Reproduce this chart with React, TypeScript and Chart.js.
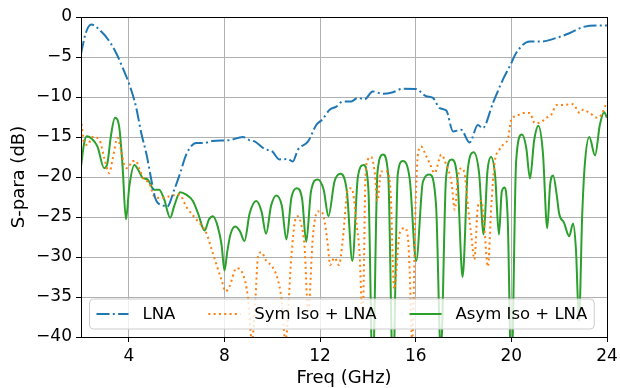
import { useEffect, useRef } from 'react';
import { Chart, registerables } from 'chart.js';

Chart.register(...registerables);

const xTickValues = [4, 8, 12, 16, 20, 24];
const yTickValues = [-40, -35, -30, -25, -20, -15, -10, -5, 0];

const seriesLabels = ['LNA', 'Sym Iso + LNA', 'Asym Iso + LNA'];

const lnaFreq = [2.0, 2.2, 2.43, 2.77, 3.19, 3.47, 3.75, 4.03, 4.3, 4.52, 4.75, 4.95, 5.1, 5.2, 5.4, 5.6, 5.9, 6.15, 6.4, 6.82, 7.17, 7.5, 8.2, 8.77, 9.05, 9.26, 9.68, 10.0, 10.3, 10.65, 10.86, 11.07, 11.5, 11.84, 12.1, 12.4, 12.68, 12.95, 13.3, 13.58, 13.86, 14.2, 14.63, 15.05, 15.46, 16.0, 16.44, 16.72, 17.0, 17.28, 17.56, 17.9, 18.25, 18.6, 18.8, 19.23, 19.65, 20.0, 20.2, 20.77, 21.3, 21.9, 22.45, 23.0, 23.56, 24.0];
const lnaDb = [-4.6, -2.0, -0.95, -1.6, -3.05, -4.5, -6.4, -8.5, -11.2, -14.5, -17.3, -20.5, -22.6, -23.2, -23.5, -23.75, -21.6, -19.5, -17.2, -15.75, -15.75, -15.5, -15.4, -15.0, -15.4, -15.55, -16.5, -16.8, -17.8, -17.75, -18.05, -16.6, -15.55, -13.5, -12.8, -11.6, -11.2, -10.55, -10.55, -10.1, -10.3, -9.3, -9.6, -9.4, -8.96, -9.0, -9.9, -10.1, -11.4, -11.7, -14.3, -14.1, -15.7, -13.5, -13.9, -10.75, -7.8, -5.75, -4.5, -3.05, -3.05, -2.6, -2.0, -1.25, -1.05, -1.05];

const symFreq = [2.0, 2.13, 2.27, 2.48, 2.76, 2.97, 3.18, 3.32, 3.53, 3.67, 3.81, 3.95, 4.15, 4.3, 4.43, 4.64, 4.85, 5.06, 5.27, 5.5, 5.7, 6.12, 6.4, 6.82, 7.24, 7.51, 7.87, 8.05, 8.21, 8.5, 8.77, 8.98, 9.15, 9.3, 9.4, 9.54, 9.75, 10.0, 10.23, 10.38, 10.55, 10.8, 10.95, 11.07, 11.2, 11.35, 11.5, 11.7, 11.9, 12.05, 12.2, 12.33, 12.42, 12.6, 12.79, 12.95, 13.16, 13.3, 13.37, 13.54, 13.65, 13.78, 13.9, 14.0, 14.14, 14.28, 14.4, 14.55, 14.8, 14.95, 15.1, 15.33, 15.54, 15.68, 15.75, 15.85, 16.0, 16.1, 16.23, 16.44, 16.58, 16.79, 17.07, 17.28, 17.5, 17.63, 17.77, 17.91, 18.05, 18.2, 18.33, 18.45, 18.6, 18.75, 18.86, 19.02, 19.16, 19.3, 19.5, 19.72, 19.85, 20.0, 20.2, 20.5, 20.77, 20.98, 21.2, 21.46, 21.67, 21.9, 22.16, 22.58, 22.86, 23.0, 23.27, 23.62, 23.8, 24.0];
const symDb = [-12.7, -15.7, -16.0, -15.0, -15.3, -17.6, -19.5, -17.8, -15.1, -16.6, -18.5, -18.9, -18.0, -18.0, -18.9, -20.3, -20.75, -22.4, -22.6, -22.6, -22.4, -22.2, -23.7, -25.3, -27.0, -29.5, -32.8, -34.3, -33.7, -31.4, -32.1, -35.0, -40.5, -35.0, -30.0, -29.4, -30.5, -31.2, -32.8, -35.1, -40.5, -29.9, -25.5, -24.9, -25.8, -28.7, -37.0, -27.4, -24.3, -24.3, -25.75, -28.7, -31.0, -30.1, -31.0, -27.8, -21.6, -21.4, -21.8, -26.2, -29.5, -38.0, -20.0, -17.8, -17.5, -19.3, -23.0, -19.3, -19.3, -22.0, -34.0, -27.0, -26.4, -27.8, -32.0, -40.5, -22.8, -17.0, -16.2, -17.4, -18.25, -19.5, -17.2, -18.5, -20.75, -24.1, -19.9, -18.9, -19.7, -24.1, -27.4, -30.3, -23.7, -23.0, -26.0, -31.2, -23.7, -18.25, -16.6, -15.75, -15.3, -12.8, -12.4, -12.0, -12.0, -13.25, -13.2, -12.6, -12.2, -11.0, -11.0, -10.9, -12.0, -11.6, -12.0, -12.6, -12.0, -10.6];

const asymFreq = [2.0, 2.13, 2.24, 2.48, 2.69, 2.97, 3.11, 3.25, 3.42, 3.6, 3.74, 3.88, 4.02, 4.23, 4.43, 4.57, 4.78, 5.06, 5.27, 5.48, 5.73, 5.9, 6.15, 6.4, 6.68, 6.89, 7.17, 7.35, 7.52, 7.72, 7.88, 8.0, 8.12, 8.25, 8.45, 8.65, 8.84, 9.05, 9.33, 9.55, 9.74, 9.95, 10.17, 10.4, 10.59, 10.8, 11.02, 11.25, 11.42, 11.62, 11.9, 12.15, 12.35, 12.6, 12.85, 13.12, 13.35, 13.58, 13.82, 14.02, 14.2, 14.4, 14.63, 14.85, 15.05, 15.25, 15.46, 15.75, 16.02, 16.3, 16.58, 16.85, 17.05, 17.27, 17.5, 17.75, 17.96, 18.18, 18.42, 18.65, 18.84, 19.0, 19.15, 19.32, 19.48, 19.6, 19.72, 19.85, 20.0, 20.2, 20.44, 20.62, 20.78, 20.95, 21.13, 21.32, 21.5, 21.62, 21.75, 21.9, 22.0, 22.2, 22.42, 22.58, 22.7, 22.83, 22.96, 23.07, 23.26, 23.5, 23.7, 23.88, 24.0];
const asymDb = [-18.7, -15.8, -14.9, -15.3, -16.2, -18.9, -18.2, -14.9, -12.6, -13.8, -18.7, -25.3, -21.2, -18.5, -19.3, -20.1, -20.3, -21.6, -21.6, -22.8, -25.1, -23.6, -21.9, -22.2, -23.0, -24.5, -26.7, -25.3, -24.9, -26.2, -28.5, -31.7, -29.3, -27.2, -26.2, -26.8, -28.0, -24.6, -23.0, -24.3, -27.1, -23.6, -22.3, -23.6, -27.8, -22.6, -21.4, -22.8, -28.1, -21.8, -20.3, -21.6, -24.9, -20.6, -19.6, -21.8, -30.5, -20.0, -18.5, -21.5, -45.0, -19.4, -17.2, -19.8, -45.0, -19.6, -18.0, -20.3, -30.5, -20.6, -19.7, -23.5, -42.0, -20.0, -17.8, -20.5, -32.5, -19.0, -16.9, -19.5, -27.2, -19.3, -17.5, -19.8, -27.2, -21.8, -21.3, -25.5, -45.0, -18.0, -14.7, -16.3, -20.2, -15.5, -13.6, -17.0, -26.4, -21.0, -19.8, -22.3, -24.6, -25.7, -27.4, -25.8, -29.0, -38.0, -25.0, -18.5, -15.0, -17.3, -13.5, -11.9, -12.6];

const toPoints = (xs: number[], ys: number[]) => xs.map((x, i) => ({ x, y: ys[i] }));

const FONT = 'DejaVu Sans';

const frameAndLegend = {
  id: 'frameAndLegend',
  afterDatasetsDraw(chart: any) {
    const ctx = chart.ctx as CanvasRenderingContext2D;
    const a = chart.chartArea;
    ctx.save();
    // spines
    ctx.strokeStyle = '#000';
    ctx.lineWidth = 1;
    ctx.strokeRect(Math.round(a.left) + 0.5, Math.round(a.top) + 0.5, Math.round(a.right - a.left), Math.round(a.bottom - a.top));

    // legend
    const fs = 16.5;
    ctx.font = `${fs}px "${FONT}"`;
    const pad = 7;
    const handle = 32;
    const textPad = 14;
    const colSpace = 33;
    const boxH = 30;
    const left = a.left + 8.5;
    const bottom = a.bottom - 8;
    const top = bottom - boxH;
    const widths = chart.data.datasets.map((d: any) => ctx.measureText(d.label).width);
    let total = pad * 2;
    widths.forEach((w: number, i: number) => {
      total += handle + textPad + w + (i < widths.length - 1 ? colSpace : 0);
    });
    const r = 4;
    ctx.beginPath();
    ctx.moveTo(left + r, top);
    ctx.lineTo(left + total - r, top);
    ctx.arcTo(left + total, top, left + total, top + r, r);
    ctx.lineTo(left + total, bottom - r);
    ctx.arcTo(left + total, bottom, left + total - r, bottom, r);
    ctx.lineTo(left + r, bottom);
    ctx.arcTo(left, bottom, left, bottom - r, r);
    ctx.lineTo(left, top + r);
    ctx.arcTo(left, top, left + r, top, r);
    ctx.closePath();
    ctx.fillStyle = 'rgba(255,255,255,0.8)';
    ctx.fill();
    ctx.strokeStyle = '#cccccc';
    ctx.lineWidth = 1;
    ctx.stroke();

    const cy = (top + bottom) / 2;
    let x = left + pad;
    chart.data.datasets.forEach((d: any, i: number) => {
      ctx.beginPath();
      ctx.strokeStyle = d.borderColor;
      ctx.lineWidth = d.borderWidth;
      ctx.setLineDash(d.borderDash || []);
      ctx.lineCap = 'butt';
      ctx.moveTo(x, cy);
      ctx.lineTo(x + handle, cy);
      ctx.stroke();
      ctx.setLineDash([]);
      ctx.fillStyle = '#000';
      ctx.textBaseline = 'middle';
      ctx.textAlign = 'left';
      ctx.fillText(d.label, x + handle + textPad, cy + 1);
      x += handle + textPad + widths[i] + colSpace;
    });
    ctx.restore();
  },
};

export default function App() {
  const ref = useRef<HTMLCanvasElement | null>(null);
  useEffect(() => {
    document.body.style.margin = '0';
    const canvas = ref.current;
    if (!canvas) return;
    Chart.defaults.font.family = FONT;
    const chart = new Chart(canvas, {
      type: 'line',
      data: {
        datasets: [
          {
            label: seriesLabels[0],
            data: toPoints(lnaFreq, lnaDb),
            borderColor: '#1f77b4',
            borderWidth: 2,
            borderDash: [13, 3.3, 2, 3.3],
            pointRadius: 0,
            cubicInterpolationMode: 'monotone',
            fill: false,
          },
          {
            label: seriesLabels[1],
            data: toPoints(symFreq, symDb),
            borderColor: '#ff7f0e',
            borderWidth: 2,
            borderDash: [2, 3.3],
            pointRadius: 0,
            cubicInterpolationMode: 'monotone',
            fill: false,
          },
          {
            label: seriesLabels[2],
            data: toPoints(asymFreq, asymDb),
            borderColor: '#2ca02c',
            borderWidth: 2,
            pointRadius: 0,
            cubicInterpolationMode: 'monotone',
            fill: false,
          },
        ],
      },
      options: {
        animation: false,
        responsive: false,
        devicePixelRatio: 1,
        layout: { padding: { left: 0, top: 17, right: 13, bottom: 0 } },
        plugins: { legend: { display: false }, tooltip: { enabled: false } },
        scales: {
          x: {
            type: 'linear',
            min: 2,
            max: 24,
            afterBuildTicks: (s: any) => { s.ticks = xTickValues.map((v) => ({ value: v })); },
            afterFit: (s: any) => { s.height = 51; s.paddingLeft = 0; s.paddingRight = 0; },
            grid: { color: '#b0b0b0', lineWidth: 1, tickColor: '#000', tickLength: 5, drawTicks: true },
            border: { display: false },
            ticks: { color: '#000', font: { size: 17 }, padding: 4, maxRotation: 0, autoSkip: false },
            title: { display: true, text: 'Freq (GHz)', color: '#000', font: { size: 18, lineHeight: 1.1 }, padding: { top: 0, bottom: 0 } },
          },
          y: {
            type: 'linear',
            min: -40,
            max: 0,
            afterBuildTicks: (s: any) => { s.ticks = yTickValues.map((v) => ({ value: v })); },
            afterFit: (s: any) => { s.width = 81; s.paddingTop = 0; s.paddingBottom = 0; },
            grid: { color: '#b0b0b0', lineWidth: 1, tickColor: '#000', tickLength: 5, drawTicks: true },
            border: { display: false },
            ticks: {
              color: '#000',
              font: { size: 17 },
              padding: 4,
              autoSkip: false,
              callback: (v: any) => String(v).replace('-', '\u2212'),
            },
            title: { display: true, text: 'S-para (dB)', color: '#000', font: { size: 18 }, padding: { top: 9, bottom: 0 } },
          },
        },
      },
      plugins: [frameAndLegend],
    } as any);
    return () => chart.destroy();
  }, []);
  return <canvas ref={ref} width={620} height={388} style={{ display: 'block' }} />;
}
